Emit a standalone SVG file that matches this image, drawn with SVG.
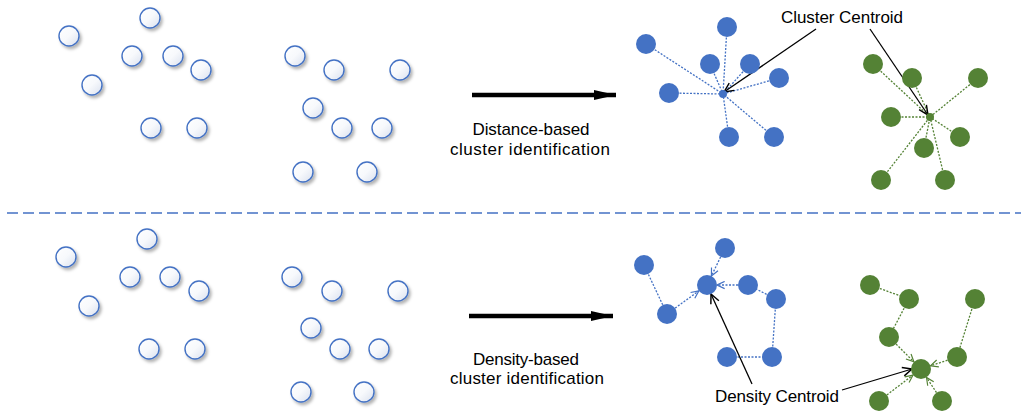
<svg xmlns="http://www.w3.org/2000/svg" width="1021" height="414" viewBox="0 0 1021 414">
<defs>
<linearGradient id="wg" x1="0" y1="0" x2="1" y2="1">
<stop offset="0" stop-color="#ffffff"/><stop offset="0.5" stop-color="#f7f9fc"/><stop offset="1" stop-color="#d9e0ee"/>
</linearGradient>
<filter id="sh" x="-50%" y="-50%" width="200%" height="200%">
<feDropShadow dx="2" dy="2.5" stdDeviation="1.5" flood-color="#000" flood-opacity="0.3"/>
</filter>
<marker id="big" viewBox="0 0 10 10" refX="10" refY="5" markerWidth="22" markerHeight="10" markerUnits="userSpaceOnUse" orient="auto" preserveAspectRatio="none">
<path d="M0,0 L10,5 L0,10 Z" fill="#000"/>
</marker>
<marker id="open" viewBox="0 0 10 10" refX="9.5" refY="5" markerWidth="11" markerHeight="11" markerUnits="userSpaceOnUse" orient="auto">
<path d="M1,1 L9.5,5 L1,9" fill="none" stroke="#000" stroke-width="1.3"/>
</marker>
<marker id="ob" viewBox="0 0 10 10" refX="9.5" refY="5" markerWidth="9" markerHeight="9" markerUnits="userSpaceOnUse" orient="auto">
<path d="M1,1 L9.5,5 L1,9" fill="none" stroke="#4472C4" stroke-width="1.3"/>
</marker>
<marker id="og" viewBox="0 0 10 10" refX="9.5" refY="5" markerWidth="9" markerHeight="9" markerUnits="userSpaceOnUse" orient="auto">
<path d="M1,1 L9.5,5 L1,9" fill="none" stroke="#548235" stroke-width="1.3"/>
</marker>
</defs>
<style>
.w{fill:url(#wg);stroke:#4472C4;stroke-width:1.4;filter:url(#sh)}
.b{fill:#4472C4}
.g{fill:#548235}
.db{stroke:#4472C4;stroke-width:1.3;stroke-dasharray:2 1.5;fill:none}
.dg{stroke:#548235;stroke-width:1.3;stroke-dasharray:2 1.5;fill:none}
.m{font-family:"Liberation Sans",Arial,sans-serif;font-size:17px;fill:#000;text-anchor:middle}
.lbl{stroke:#000;stroke-width:1.3;fill:none}
</style>
<rect width="1021" height="414" fill="#fff"/>

<g id="divider">
<line x1="7" y1="213" x2="1021" y2="213" stroke="#4472C4" stroke-width="1.5" stroke-dasharray="11 5"/>
</g>

<g id="raw-top">
<circle class="w" cx="150" cy="18" r="10"/>
<circle class="w" cx="69" cy="36" r="10"/>
<circle class="w" cx="132" cy="56" r="10"/>
<circle class="w" cx="173" cy="56" r="10"/>
<circle class="w" cx="201" cy="70" r="10"/>
<circle class="w" cx="92" cy="85" r="10"/>
<circle class="w" cx="151" cy="128" r="10"/>
<circle class="w" cx="197" cy="128" r="10"/>
<circle class="w" cx="295" cy="56" r="10"/>
<circle class="w" cx="334" cy="70" r="10"/>
<circle class="w" cx="400" cy="70" r="10"/>
<circle class="w" cx="313" cy="108" r="10"/>
<circle class="w" cx="342" cy="128" r="10"/>
<circle class="w" cx="382" cy="128" r="10"/>
<circle class="w" cx="303" cy="172" r="10"/>
<circle class="w" cx="367" cy="172" r="10"/>
</g>

<g id="raw-bottom">
<circle class="w" cx="147" cy="239" r="10"/>
<circle class="w" cx="66" cy="257" r="10"/>
<circle class="w" cx="130" cy="277" r="10"/>
<circle class="w" cx="170" cy="277" r="10"/>
<circle class="w" cx="199" cy="291" r="10"/>
<circle class="w" cx="89" cy="306" r="10"/>
<circle class="w" cx="149" cy="349" r="10"/>
<circle class="w" cx="195" cy="349" r="10"/>
<circle class="w" cx="292" cy="277" r="10"/>
<circle class="w" cx="332" cy="291" r="10"/>
<circle class="w" cx="398" cy="291" r="10"/>
<circle class="w" cx="311" cy="328" r="10"/>
<circle class="w" cx="340" cy="349" r="10"/>
<circle class="w" cx="379" cy="349" r="10"/>
<circle class="w" cx="301" cy="392" r="10"/>
<circle class="w" cx="364" cy="392" r="10"/>
</g>

<g id="connectors">
<line x1="472" y1="95" x2="616" y2="95" stroke="#000" stroke-width="4.5" marker-end="url(#big)"/>
<line x1="469" y1="316" x2="613" y2="316" stroke="#000" stroke-width="4.5" marker-end="url(#big)"/>
<g class="db">
<line x1="727" y1="27" x2="723" y2="94"/>
<line x1="646" y1="44" x2="723" y2="94"/>
<line x1="710" y1="64" x2="723" y2="94"/>
<line x1="750" y1="64" x2="723" y2="94"/>
<line x1="779" y1="78" x2="723" y2="94"/>
<line x1="669" y1="93" x2="723" y2="94"/>
<line x1="729" y1="137" x2="723" y2="94"/>
<line x1="774" y1="137" x2="723" y2="94"/>
</g>
<g class="dg">
<line x1="873" y1="64" x2="930" y2="117"/>
<line x1="912" y1="78" x2="930" y2="117"/>
<line x1="978" y1="78" x2="930" y2="117"/>
<line x1="891" y1="117" x2="930" y2="117"/>
<line x1="960" y1="137" x2="930" y2="117"/>
<line x1="924" y1="148" x2="930" y2="117"/>
<line x1="881" y1="180" x2="930" y2="117"/>
<line x1="945" y1="180" x2="930" y2="117"/>
</g>
<g class="db">
<line x1="720.6" y1="257" x2="711.4" y2="276" marker-end="url(#ob)"/>
<line x1="738" y1="285" x2="717" y2="285" marker-end="url(#ob)"/>
<line x1="675.1" y1="308.1" x2="698.9" y2="290.9" marker-end="url(#ob)"/>
<line x1="644" y1="265" x2="667" y2="314"/>
<line x1="776" y1="299" x2="748" y2="285"/>
<line x1="772" y1="357" x2="776" y2="299"/>
<line x1="727" y1="357" x2="772" y2="357"/>
</g>
<g class="dg">
<line x1="870" y1="285" x2="909" y2="299"/>
<line x1="909" y1="299" x2="889" y2="337"/>
<line x1="975" y1="299" x2="957" y2="357"/>
<line x1="896.1" y1="344.1" x2="913.9" y2="361.9" marker-end="url(#og)"/>
<line x1="947.5" y1="360.2" x2="930.5" y2="365.8" marker-end="url(#og)"/>
<line x1="886.9" y1="394.9" x2="913" y2="375.1" marker-end="url(#og)"/>
<line x1="936.5" y1="392.6" x2="926.5" y2="377.4" marker-end="url(#og)"/>
</g>
<line class="lbl" x1="816" y1="29" x2="724" y2="92" marker-end="url(#open)"/>
<line class="lbl" x1="870" y1="29" x2="928" y2="115" marker-end="url(#open)"/>
<line class="lbl" x1="752" y1="384" x2="711" y2="294" marker-end="url(#open)"/>
<line class="lbl" x1="842" y1="390" x2="912" y2="369" marker-end="url(#open)"/>
</g>

<g id="distance-blue">
<circle class="b" cx="727" cy="27" r="10"/>
<circle class="b" cx="646" cy="44" r="10"/>
<circle class="b" cx="710" cy="64" r="10"/>
<circle class="b" cx="750" cy="64" r="10"/>
<circle class="b" cx="779" cy="78" r="10"/>
<circle class="b" cx="669" cy="93" r="10"/>
<circle class="b" cx="729" cy="137" r="10"/>
<circle class="b" cx="774" cy="137" r="10"/>
<circle class="b" cx="723" cy="94" r="4"/>
</g>
<g id="distance-green">
<circle class="g" cx="873" cy="64" r="10"/>
<circle class="g" cx="912" cy="78" r="10"/>
<circle class="g" cx="978" cy="78" r="10"/>
<circle class="g" cx="891" cy="117" r="10"/>
<circle class="g" cx="960" cy="137" r="10"/>
<circle class="g" cx="924" cy="148" r="10"/>
<circle class="g" cx="881" cy="180" r="10"/>
<circle class="g" cx="945" cy="180" r="10"/>
<circle class="g" cx="930" cy="117" r="4"/>
</g>
<g id="density-blue">
<circle class="b" cx="725" cy="248" r="10"/>
<circle class="b" cx="644" cy="265" r="10"/>
<circle class="b" cx="707" cy="285" r="10"/>
<circle class="b" cx="748" cy="285" r="10"/>
<circle class="b" cx="776" cy="299" r="10"/>
<circle class="b" cx="667" cy="314" r="10"/>
<circle class="b" cx="727" cy="357" r="10"/>
<circle class="b" cx="772" cy="357" r="10"/>
</g>
<g id="density-green">
<circle class="g" cx="870" cy="285" r="10"/>
<circle class="g" cx="909" cy="299" r="10"/>
<circle class="g" cx="975" cy="299" r="10"/>
<circle class="g" cx="889" cy="337" r="10"/>
<circle class="g" cx="957" cy="357" r="10"/>
<circle class="g" cx="921" cy="369" r="10"/>
<circle class="g" cx="879" cy="401" r="10"/>
<circle class="g" cx="942" cy="401" r="10"/>
</g>

<g id="labels">
<text class="m" x="531" y="135" textLength="117">Distance-based</text>
<text class="m" x="530" y="155" textLength="160">cluster identification</text>
<text class="m" x="526" y="365" textLength="106">Density-based</text>
<text class="m" x="527" y="384" textLength="154">cluster identification</text>
<text class="m" x="842" y="23" textLength="122">Cluster Centroid</text>
<text class="m" x="777" y="402" textLength="124">Density Centroid</text>
</g>
</svg>
